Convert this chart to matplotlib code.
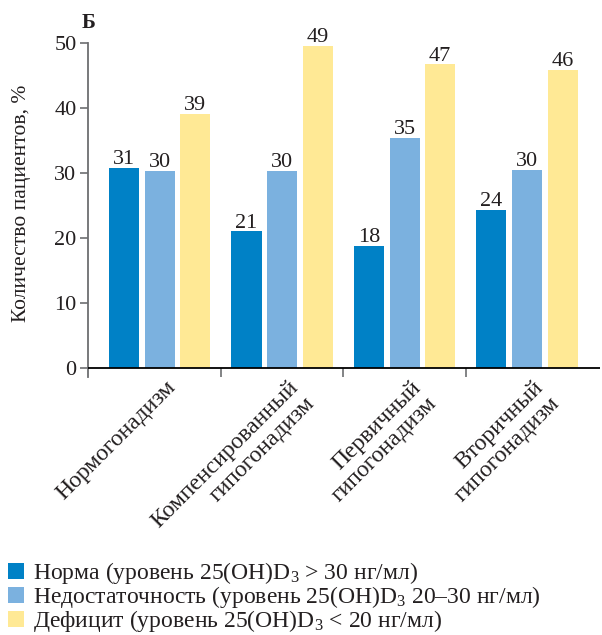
import numpy as np
import matplotlib.pyplot as plt
import matplotlib.transforms as mtransforms

plt.rcParams['font.family'] = ['Liberation Serif', 'DejaVu Serif']
plt.rcParams['mathtext.fontset'] = 'custom'
plt.rcParams['mathtext.rm'] = 'Liberation Serif'
plt.rcParams['mathtext.it'] = 'Liberation Serif:italic'

# data
categories = ['Нормогонадизм', 'Компенсированный\nгипогонадизм',
              'Первичный\nгипогонадизм', 'Вторичный\nгипогонадизм']
series_names = ['Норма (уровень 25(OH)D$_3$ > 30 нг/мл)',
                'Недостаточность (уровень 25(OH)D$_3$ 20–30 нг/мл)',
                'Дефицит (уровень 25(OH)D$_3$ < 20 нг/мл)']
norma = [30.8, 21.0, 18.8, 24.3]
nedostatok = [30.3, 30.3, 35.4, 30.5]
deficit = [39.1, 49.6, 46.7, 45.9]
norma_lbl = [31, 21, 18, 24]
nedostatok_lbl = [30, 30, 35, 30]
deficit_lbl = [39, 49, 47, 46]
yticks = [0, 10, 20, 30, 40, 50]

colors = ['#0081c6', '#7bb1df', '#ffe995']
text_col = '#231f20'
spine_col = '#6d6e71'

fig = plt.figure(figsize=(6.02, 6.35), dpi=100)
ax = fig.add_axes([88 / 602, 258 / 635, 512 / 602, 334 / 635])

x = np.arange(len(categories))
width = 0.245
step = 0.29
bars = []
for i, (vals, lbls) in enumerate(zip([norma, nedostatok, deficit],
                                     [norma_lbl, nedostatok_lbl, deficit_lbl])):
    pos = x + (i - 1) * step
    b = ax.bar(pos, vals, width, color=colors[i], zorder=2)
    bars.append(b)
    for p, v, l in zip(pos, vals, lbls):
        ax.annotate(str(l), (p, v), xytext=(0, 2.8), textcoords='offset points',
                    ha='center', va='baseline', fontsize=16, color=text_col)

ax.set_xlim(-0.584, 3.596)
ax.set_ylim(-1.4, 50)
ax.axhline(0, color='black', lw=1.3, zorder=3)

for s in ['top', 'right', 'bottom']:
    ax.spines[s].set_visible(False)
ax.spines['left'].set_color(spine_col)
ax.spines['left'].set_linewidth(1.3)

ax.set_yticks(yticks)
ax.tick_params(axis='y', length=5.8, width=1.2, color=spine_col, pad=2.5,
               labelsize=16, labelcolor=text_col)

ax.set_xticks(x)
ax.set_xticklabels(categories, fontsize=17, color=text_col, linespacing=1.1)
ax.set_xticks(x[:-1] + 0.5, minor=True)
ax.tick_params(axis='x', which='major', length=0, pad=0)
ax.tick_params(axis='x', which='minor', direction='in', length=6.5, width=1.2,
               color=spine_col)
offset = mtransforms.ScaledTranslation(6 / 100, 0, fig.dpi_scale_trans)
for lab in ax.get_xticklabels():
    lab.set_rotation(45)
    lab.set_ha('right')
    lab.set_va('top')
    lab.set_rotation_mode('anchor')
    lab.set_multialignment('right')
    lab.set_transform(lab.get_transform() + offset)

ax.set_ylabel('Количество пациентов, %', fontsize=15.5, color=text_col)
ax.yaxis.set_label_coords(-0.111, 0.52)

fig.text(82 / 602, 1 - 28 / 635, 'Б', fontsize=15, fontweight='bold',
         color=text_col, va='baseline')

fig.legend([b[0] for b in bars], series_names, loc='upper left',
           bbox_to_anchor=(8 / 602, 1 - 560 / 635), frameon=False,
           fontsize=17, handlelength=0.68, handleheight=0.68,
           handletextpad=0.38, labelspacing=-0.08, borderpad=0,
           borderaxespad=0, labelcolor=text_col)

fig.savefig('out.png', dpi=100)
